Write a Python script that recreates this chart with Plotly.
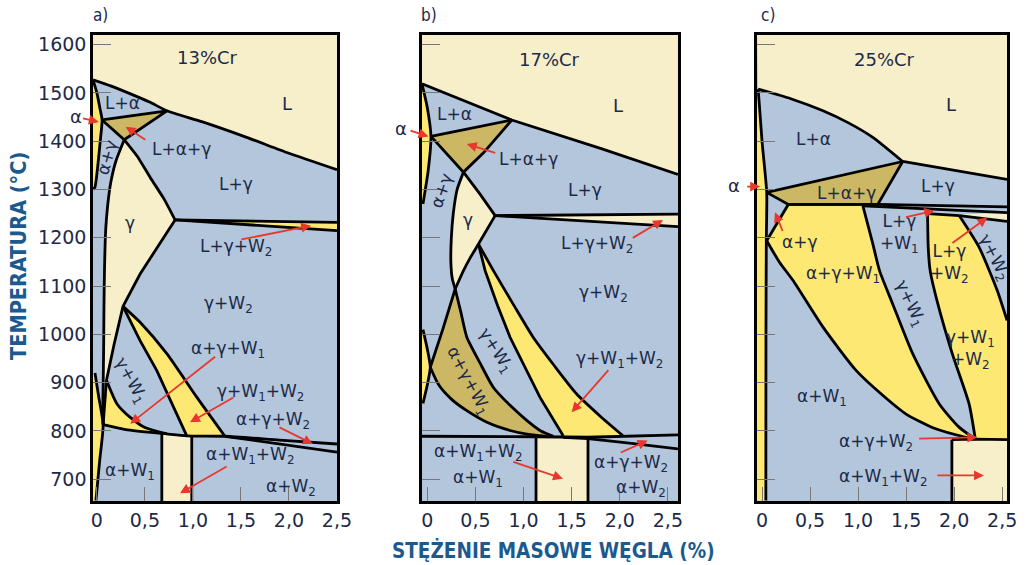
import numpy as np
import plotly.graph_objects as go

# ---------------- colours ----------------
BEIGE = "#f7efca"
BLUE = "#b3c6dc"
YELLOW = "#fce873"
OLIVE = "#cbb764"
INK = "#1c2a48"
RED = "#e8372c"
TITLE = "#1b5a8e"

# ---------------- panel a : 13 % Cr  (C %, T degC) ----------------
A_LIQ = [(-0.04, 1527), (0.15, 1514), (0.35, 1498), (0.55, 1481), (0.73, 1463),
         (1.1, 1440), (1.56, 1408), (2.0, 1375), (2.5, 1341)]
A_TRI = [(0.054, 1444), (0.73, 1463), (0.285, 1403), (0.054, 1444)]
A_ALPHA_TOP = [(-0.04, 1527), (0.0, 1500), (0.03, 1470), (0.054, 1444), (0.035, 1400),
               (0.01, 1350), (-0.02, 1305), (-0.04, 1300)]
A_GAMMA_RIGHT = [(0.285, 1403), (0.42, 1369), (0.555, 1325), (0.70, 1280), (0.814, 1237)]
A_GAMMA_LOW = [(0.814, 1237), (0.60, 1170), (0.45, 1125), (0.272, 1058)]
A_GAMMA_TAIL = [(0.272, 1058), (0.18, 980), (0.10, 905)]
A_AG = [(0.285, 1403), (0.20, 1360), (0.15, 1320), (0.122, 1284), (0.10, 1240),
        (0.088, 1201), (0.078, 1120), (0.074, 1060), (0.07, 960), (0.066, 905),
        (0.063, 860), (0.065, 813)]
A_TRI1_TOP = [(0.10, 905), (0.21, 856), (0.348, 828), (0.50, 807), (0.728, 794)]
A_TRI1_LEFT = [(0.10, 905), (0.065, 813)]
A_LINE1 = [(0.065, 813), (0.30, 803), (0.728, 794), (0.936, 790), (1.333, 789),
           (1.9, 781), (2.5, 773)]
A_LINE2 = [(1.333, 789), (1.9, 773), (2.5, 756)]
A_W1W2_LEFT = [(0.272, 1058), (0.45, 987), (0.624, 925), (0.936, 790)]
A_W1W2_RIGHT = [(0.272, 1058), (0.45, 1025), (0.728, 960), (1.04, 870), (1.333, 789)]
A_ALPHA_BOT = [(-0.02, 920), (0.02, 870), (0.065, 813), (0.03, 740), (-0.01, 656)]
A_WEDGE = [(0.814, 1237), (2.5, 1232), (2.5, 1215)]
A_RECT_C = [0.676, 0.988]

# ---------------- panel b : 17 % Cr ----------------
B_LIQ = [(-0.055, 1519), (0.878, 1444), (1.8, 1385), (2.605, 1331)]
B_TRI = [(0.038, 1410), (0.878, 1444), (0.584, 1376), (0.376, 1336), (0.038, 1410)]
B_ALPHA_TOP = [(-0.055, 1519), (0.0, 1470), (0.038, 1410), (0.01, 1340), (-0.045, 1270),
               (-0.055, 1268)]
B_GAMMA_RIGHT = [(0.376, 1336), (0.55, 1290), (0.705, 1246)]
B_GAMMA_LOW = [(0.705, 1246), (0.532, 1187), (0.45, 1160), (0.376, 1132), (0.29, 1094)]
B_AG = [(0.376, 1336), (0.31, 1300), (0.27, 1250), (0.25, 1200), (0.245, 1150),
        (0.26, 1115), (0.29, 1094)]
B_OLIVE_LEFT = [(0.29, 1094), (0.16, 1010), (0.031, 932)]
B_OLIVE_LOW = [(0.031, 932), (0.12, 895), (0.25, 866), (0.411, 842), (0.62, 818),
               (0.86, 801), (1.05, 793), (1.24, 789)]
B_OLIVE_UP = [(0.29, 1094), (0.35, 1045), (0.411, 994), (0.55, 940), (0.687, 890),
              (0.86, 853), (1.033, 822), (1.18, 800), (1.31, 789)]
B_YEL_LEFT = [(0.532, 1187), (0.601, 1132), (0.73, 1060), (0.86, 994), (1.17, 870),
              (1.412, 790)]
B_YEL_RIGHT = [(0.532, 1187), (0.687, 1132), (0.90, 1060), (1.10, 994), (1.32, 935),
               (1.55, 877), (1.80, 830), (2.034, 790)]
B_WEDGE = [(0.705, 1246), (2.605, 1249), (2.605, 1223)]
B_ALPHA_BOT = [(-0.045, 1010), (0.0, 970), (0.031, 932), (0.0, 895), (-0.045, 857)]
B_LINE1 = [(-0.055, 789), (0.5, 789), (1.13, 788), (1.67, 787), (2.1, 789), (2.605, 792)]
B_LINE2 = [(1.41, 787), (1.67, 784), (2.1, 775), (2.605, 763)]
B_RECT_C = [1.13, 1.67]

# ---------------- panel c : 25 % Cr ----------------
C_LIQ = [(-0.04, 1508), (0.30, 1488), (0.635, 1463), (0.90, 1438), (1.153, 1408),
         (1.464, 1358)]
C_LIQ2 = [(1.464, 1358), (2.55, 1321)]
C_OLIVE = [(0.049, 1294), (1.464, 1358), (1.205, 1269), (0.273, 1269), (0.049, 1294)]
C_ALPHA_EDGE = [(-0.04, 1508), (0.0, 1400), (0.049, 1294), (0.045, 1200), (0.041, 1000),
                (0.04, 656)]
C_AG_LINE = [(0.273, 1269), (0.049, 1194)]
C_CURVE1 = [(0.049, 1194), (0.18, 1150), (0.325, 1111), (0.635, 1015), (0.981, 925),
            (1.25, 875), (1.50, 835), (1.80, 805), (2.12, 787), (2.22, 783)]
C_CURVE2 = [(1.05, 1266), (1.15, 1190), (1.223, 1132), (1.36, 1063), (1.568, 960),
            (1.845, 856), (2.05, 808), (2.22, 783)]
C_CURVE3 = [(1.723, 1250), (1.73, 1180), (1.75, 1132), (1.83, 1063), (1.98, 960),
            (2.155, 856), (2.22, 783)]
C_Y2_TOP = [(1.723, 1250), (2.052, 1246)]
C_Y2_RIGHT = [(2.052, 1246), (2.26, 1180), (2.45, 1090), (2.55, 1029)]
C_LINE_U = [(0.273, 1269), (1.205, 1269), (2.55, 1264)]
C_LINE_M = [(1.05, 1266), (2.55, 1252)]
C_LINE_W = [(2.052, 1246), (2.55, 1234)]
C_SLIVER = [(2.052, 1248), (2.55, 1252), (2.55, 1234)]
C_LINE_BOT = [(1.976, 782), (2.22, 783), (2.55, 782)]
C_RECT_C = [1.976]

# ---------------- axes ----------------
X_RANGES = [(-0.04, 2.5), (-0.055, 2.605), (-0.052, 2.55)]
X_DOMAINS = [(0.0905, 0.3278), (0.4105, 0.6595), (0.7364, 0.9796)]
Y_RANGE = (655, 1620)
Y_DOMAIN = (0.1133, 0.9381)
X_TICKS = [0, 0.5, 1.0, 1.5, 2.0, 2.5]
X_TICKTEXT = ["0", "0,5", "1,0", "1,5", "2,0", "2,5"]
Y_TICKS = [700, 800, 900, 1000, 1100, 1200, 1300, 1400, 1500, 1600]

W, H = 1028, 565
AXES = [("x", "y"), ("x2", "y2"), ("x3", "y3")]
fig = go.Figure()


def poly(pts, color, p):
    xs, ys = zip(*pts)
    fig.add_trace(go.Scatter(x=xs, y=ys, fill="toself", fillcolor=color, mode="lines",
                             line=dict(width=0, color=color), xaxis=AXES[p][0],
                             yaxis=AXES[p][1], hoverinfo="skip", showlegend=False))


def bline(pts, p, smooth=False, w=2.8):
    xs, ys = zip(*pts)
    fig.add_trace(go.Scatter(x=xs, y=ys, mode="lines",
                             line=dict(width=w, color="black",
                                       shape="spline" if smooth else "linear",
                                       smoothing=0.6),
                             xaxis=AXES[p][0], yaxis=AXES[p][1], hoverinfo="skip",
                             showlegend=False))


def top_of(line, c):
    xs, ys = zip(*line)
    return float(np.interp(c, xs, ys))


annotations = []


def lab(text, c, t, p, size=17, angle=0):
    annotations.append(dict(text=text, x=c, y=t, xref=AXES[p][0], yref=AXES[p][1],
                            showarrow=False, textangle=angle, xanchor="center",
                            yanchor="middle",
                            font=dict(size=size, color=INK, family="DejaVu Sans")))


def arr(tail, head, p):
    annotations.append(dict(text="", x=head[0], y=head[1], ax=tail[0], ay=tail[1],
                            xref=AXES[p][0], yref=AXES[p][1], axref=AXES[p][0],
                            ayref=AXES[p][1], showarrow=True, arrowhead=2, arrowsize=1.1,
                            arrowwidth=1.8, arrowcolor=RED, standoff=0))


def paper_lab(text, px, py, size=17, angle=0, color=INK, family="DejaVu Sans"):
    annotations.append(dict(text=text, x=px / W, y=1 - py / H, xref="paper", yref="paper",
                            showarrow=False, textangle=angle, xanchor="center",
                            yanchor="middle", font=dict(size=size, color=color,
                                                        family=family)))


# ===== panel a =====
xl, xr = X_RANGES[0]
poly(A_LIQ + [(xr, 1620), (xl, 1620)], BEIGE, 0)
poly(A_ALPHA_TOP, YELLOW, 0)
poly(A_GAMMA_RIGHT + A_GAMMA_LOW[1:] + A_GAMMA_TAIL[1:] + A_AG[:10][::-1], BEIGE, 0)
poly(A_TRI1_TOP + A_LINE1[:3][::-1][1:], YELLOW, 0)
poly(A_W1W2_LEFT + A_W1W2_RIGHT[::-1], YELLOW, 0)
poly(A_ALPHA_BOT + [(xl, 656), (xl, 920)], YELLOW, 0)
poly(A_WEDGE, YELLOW, 0)
ra = [(A_RECT_C[0], 655)] + [(c, top_of(A_LINE1, c)) for c in
                             [A_RECT_C[0], 0.728, 0.936, A_RECT_C[1]]] + [(A_RECT_C[1], 655)]
poly(ra, BEIGE, 0)
poly(A_TRI, OLIVE, 0)
for seg in [A_TRI, A_GAMMA_LOW, A_GAMMA_TAIL, A_TRI1_LEFT, A_LINE2,
            A_W1W2_LEFT, A_WEDGE[:2], [A_WEDGE[0], A_WEDGE[2]]]:
    bline(seg, 0)
for seg in [A_LIQ, A_ALPHA_TOP, A_GAMMA_RIGHT, A_AG, A_TRI1_TOP, A_LINE1, A_W1W2_RIGHT,
            A_ALPHA_BOT]:
    bline(seg, 0, smooth=True)
for c in A_RECT_C:
    bline([(c, 655), (c, top_of(A_LINE1, c))], 0)

lab("13%Cr", 1.157, 1573, 0, 18)
lab("L", 1.976, 1478, 0, 18)
lab("L+α", 0.27, 1480, 0)
lab("L+α+γ", 0.88, 1384, 0)
arr((0.52, 1401), (0.30, 1430), 0)
lab("L+γ", 1.45, 1312, 0)
lab("γ", 0.348, 1231, 0)
lab("L+γ+W<sub>2</sub>", 1.45, 1180, 0)
arr((1.49, 1196), (2.23, 1225), 0)
lab("γ+W<sub>2</sub>", 1.375, 1062, 0)
lab("α+γ+W<sub>1</sub>", 1.367, 968, 0)
arr((1.247, 956), (0.348, 815), 0)
lab("γ+W<sub>1</sub>+W<sub>2</sub>", 1.70, 880, 0)
arr((1.437, 871), (0.97, 818), 0)
lab("α+γ+W<sub>2</sub>", 1.83, 822, 0)
arr((1.886, 809), (2.249, 773), 0)
lab("α+W<sub>1</sub>+W<sub>2</sub>", 1.59, 749, 0)
arr((1.367, 728), (0.866, 671), 0)
lab("α+W<sub>1</sub>", 0.348, 716, 0)
lab("α+W<sub>2</sub>", 2.025, 683, 0)
lab("α+γ", 0.106, 1367, 0, 17, -74)
lab("γ+W<sub>1</sub>", 0.348, 904, 0, 17, 61)
paper_lab("α", 76, 116, 18)
arr((-0.16, 1448), (0.02, 1440), 0)

# ===== panel b =====
xl, xr = X_RANGES[1]
poly(B_LIQ + [(xr, 1620), (xl, 1620)], BEIGE, 1)
poly(B_ALPHA_TOP, YELLOW, 1)
poly(B_GAMMA_RIGHT + B_GAMMA_LOW[1:] + B_AG[::-1][1:], BEIGE, 1)
poly(B_OLIVE_LEFT + B_OLIVE_LOW[1:] + B_OLIVE_UP[::-1], OLIVE, 1)
poly(B_YEL_LEFT + B_YEL_RIGHT[::-1], YELLOW, 1)
poly(B_WEDGE, BEIGE, 1)
poly(B_ALPHA_BOT + [(xl, 857), (xl, 1010)], YELLOW, 1)
rb = [(B_RECT_C[0], 655)] + [(c, top_of(B_LINE1, c)) for c in B_RECT_C] + [(B_RECT_C[1], 655)]
poly(rb, BEIGE, 1)
poly(B_TRI, OLIVE, 1)
for seg in [B_LIQ, B_TRI, B_GAMMA_RIGHT, B_LINE1, B_LINE2, B_WEDGE[:2],
            [B_WEDGE[0], B_WEDGE[2]], B_OLIVE_LEFT, B_YEL_LEFT]:
    bline(seg, 1)
for seg in [B_ALPHA_TOP[:-1], B_GAMMA_LOW, B_AG, B_OLIVE_LOW, B_OLIVE_UP, B_YEL_RIGHT,
            B_ALPHA_BOT]:
    bline(seg, 1, smooth=True)
for c in B_RECT_C:
    bline([(c, 655), (c, top_of(B_LINE1, c))], 1)

lab("17%Cr", 1.275, 1570, 1, 18)
lab("L", 1.98, 1474, 1, 18)
lab("L+α", 0.28, 1457, 1)
lab("L+α+γ", 1.05, 1363, 1)
arr((0.722, 1375), (0.411, 1394), 1)
lab("L+γ", 1.637, 1298, 1)
lab("γ", 0.428, 1236, 1)
lab("L+γ+W<sub>2</sub>", 1.76, 1187, 1)
arr((2.12, 1198), (2.45, 1237), 1)
lab("γ+W<sub>2</sub>", 1.83, 1084, 1)
lab("γ+W<sub>1</sub>+W<sub>2</sub>", 2.0, 949, 1)
arr((1.896, 929), (1.50, 839), 1)
lab("γ+W<sub>1</sub>", 0.705, 966, 1, 17, 57)
lab("α+γ+W<sub>1</sub>", 0.42, 904, 1, 17, 62)
lab("α+γ", 0.152, 1298, 1, 17, -71)
lab("α+W<sub>1</sub>+W<sub>2</sub>", 0.532, 756, 1)
arr((0.878, 737), (1.41, 701), 1)
lab("α+W<sub>1</sub>", 0.532, 701, 1)
lab("α+γ+W<sub>2</sub>", 2.12, 732, 1)
arr((1.995, 754), (2.29, 780), 1)
lab("α+W<sub>2</sub>", 2.225, 680, 1)
paper_lab("α", 401, 128, 18)
arr((-0.19, 1423), (0.013, 1410), 1)

# ===== panel c =====
xl, xr = X_RANGES[2]
poly(C_LIQ + C_LIQ2[1:] + [(xr, 1620), (xl, 1620)], BEIGE, 2)
poly(C_ALPHA_EDGE + [(xl, 656), (xl, 1508)], YELLOW, 2)
poly([(0.273, 1269)] + C_CURVE2 + C_CURVE1[::-1][1:], YELLOW, 2)
poly(C_Y2_TOP + C_Y2_RIGHT[1:] + [(xr, 782), (2.22, 783)] + C_CURVE3[::-1][1:], YELLOW, 2)
poly(C_SLIVER, BEIGE, 2)
poly([(C_RECT_C[0], 655), (C_RECT_C[0], 782), (xr, 782), (xr, 655)], BEIGE, 2)
poly(C_OLIVE, OLIVE, 2)
for seg in [C_LIQ2, C_OLIVE, C_AG_LINE, C_Y2_TOP, C_LINE_U, C_LINE_M, C_LINE_W,
            C_LINE_BOT, [(C_RECT_C[0], 655), (C_RECT_C[0], 782)]]:
    bline(seg, 2)
for seg in [C_LIQ, C_ALPHA_EDGE, C_CURVE1, C_CURVE2, C_CURVE3, C_Y2_RIGHT]:
    bline(seg, 2, smooth=True)

lab("25%Cr", 1.275, 1570, 2, 18)
lab("L", 1.966, 1477, 2, 18)
lab("L+α", 0.532, 1405, 2)
lab("L+α+γ", 0.878, 1292, 2)
lab("L+γ", 1.827, 1308, 2)
lab("α+γ", 0.40, 1191, 2)
arr((0.221, 1211), (0.135, 1253), 2)
lab("L+γ<br>+W<sub>1</sub>", 1.43, 1208, 2)
arr((1.482, 1242), (1.793, 1256), 2)
lab("L+γ<br>+W<sub>2</sub>", 1.95, 1146, 2)
arr((1.966, 1187), (2.345, 1242), 2)
lab("γ+W<sub>2</sub>", 2.415, 1160, 2, 17, 63)
lab("α+γ+W<sub>1</sub>", 0.84, 1125, 2)
lab("γ+W<sub>1</sub>", 1.534, 1063, 2, 17, 65)
lab("γ+W<sub>1</sub><br>+W<sub>2</sub>", 2.17, 968, 2)
lab("α+W<sub>1</sub>", 0.62, 870, 2)
lab("α+γ+W<sub>2</sub>", 1.19, 777, 2)
arr((1.62, 784), (2.24, 787), 2)
lab("α+W<sub>1</sub>+W<sub>2</sub>", 1.26, 704, 2)
arr((1.81, 708), (2.31, 708), 2)
paper_lab("α", 734, 185, 18)
arr((-0.17, 1306), (-0.02, 1306), 2)

# ---------------- titles / panel letters ----------------
for txt, xp in [("a)", 100), ("b)", 429), ("c)", 768)]:
    paper_lab(txt, xp, 15, 17, family="DejaVu Sans Condensed, DejaVu Sans")
TFONT = "Liberation Sans Narrow, DejaVu Sans Condensed, Roboto"
paper_lab("<b>TEMPERATURA (°C)</b>", 18, 256, 21.5, -90, TITLE, TFONT)
paper_lab("<b>STĘŻENIE MASOWE WĘGLA (%)</b>", 553, 550, 20.5, 0, TITLE, TFONT)

layout = dict(width=W, height=H, autosize=False, margin=dict(l=0, r=0, t=0, b=0, pad=0),
              paper_bgcolor="white", plot_bgcolor=BLUE, showlegend=False,
              annotations=annotations)
for i in range(3):
    xs = "xaxis" if i == 0 else f"xaxis{i + 1}"
    ys = "yaxis" if i == 0 else f"yaxis{i + 1}"
    layout[xs] = dict(domain=list(X_DOMAINS[i]), range=list(X_RANGES[i]), anchor=AXES[i][1],
                      tickvals=X_TICKS, ticktext=X_TICKTEXT, ticks="inside", ticklen=14,
                      tickcolor="#777", tickwidth=1, showgrid=False, zeroline=False,
                      showline=True, linecolor="black", linewidth=2.5, mirror=True,
                      automargin=False,
                      tickfont=dict(size=19, color=INK, family="DejaVu Sans"),
                      layer="above traces")
    layout[ys] = dict(domain=list(Y_DOMAIN), range=list(Y_RANGE), anchor=AXES[i][0],
                      tickvals=Y_TICKS, ticks="inside", ticklen=18, tickcolor="#777",
                      tickwidth=1, showgrid=False, zeroline=False, showline=True,
                      linecolor="black", linewidth=2.5, mirror=True, automargin=False,
                      showticklabels=(i == 0),
                      tickfont=dict(size=19, color=INK, family="DejaVu Sans"),
                      layer="above traces")
fig.update_layout(**layout)

POST = ("document.documentElement.style.overflow='hidden';"
        "document.body.style.margin='0';document.body.style.overflow='hidden';"
        "var gd=document.getElementById('{plot_id}');"
        "Plotly.relayout(gd,{width:%d,height:%d});" % (W, H))
fig.write_html("out.html", config={"responsive": False}, post_script=POST)
